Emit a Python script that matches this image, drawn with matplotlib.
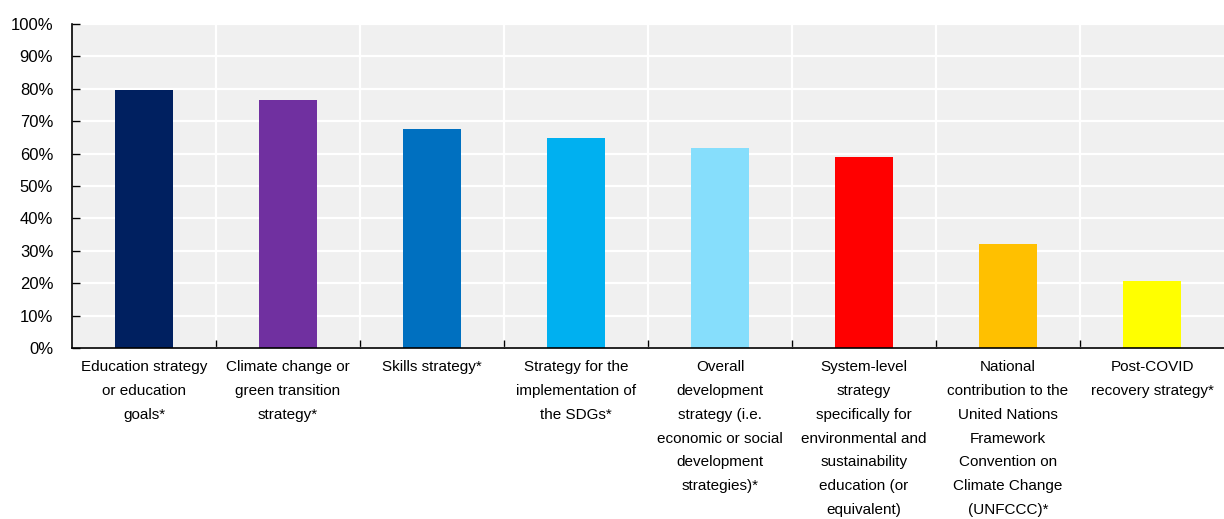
import matplotlib
matplotlib.use("Agg")
import matplotlib.pyplot as plt
from matplotlib.ticker import FixedLocator, PercentFormatter

categories = [
    "Education strategy\nor education\ngoals*",
    "Climate change or\ngreen transition\nstrategy*",
    "Skills strategy*",
    "Strategy for the\nimplementation of\nthe SDGs*",
    "Overall\ndevelopment\nstrategy (i.e.\neconomic or social\ndevelopment\nstrategies)*",
    "System-level\nstrategy\nspecifically for\nenvironmental and\nsustainability\neducation (or\nequivalent)",
    "National\ncontribution to the\nUnited Nations\nFramework\nConvention on\nClimate Change\n(UNFCCC)*",
    "Post-COVID\nrecovery strategy*",
]
values = [79.5, 76.5, 67.6, 64.8, 61.7, 58.8, 32.2, 20.6]
colors = ["#002060", "#7030A0", "#0070C0", "#00B0F0", "#86DEFC", "#FF0000", "#FFC000", "#FFFF00"]
yticks = list(range(0, 101, 10))

plt.rcParams["font.family"] = ["Liberation Sans", "DejaVu Sans"]

W, H = 1224, 519
fig = plt.figure(figsize=(W / 100, H / 100), dpi=100)
ax = fig.add_axes([72 / W, 1 - 348 / H, 1 - 72 / W, (348 - 24) / H])
ax.set_facecolor("#F0F0F0")

x = list(range(len(values)))
ax.bar(x, values, width=0.4, color=colors, zorder=3)

ax.set_xlim(-0.5, len(values) - 0.5)
ax.set_ylim(0, 100)
ax.set_yticks(yticks)
ax.yaxis.set_major_formatter(PercentFormatter(decimals=0))

bounds = [i + 0.5 for i in range(len(values) - 1)]
ax.xaxis.set_major_locator(FixedLocator(bounds))
ax.set_xticklabels([""] * len(bounds))
ax.set_xticks(x, minor=True)
ax.set_xticklabels(categories, minor=True)

ax.grid(True, which="major", color="white", linewidth=1.6, zorder=0)
ax.set_axisbelow(True)

for s in ["top", "right"]:
    ax.spines[s].set_visible(False)
for s in ["left", "bottom"]:
    ax.spines[s].set_color("black")
    ax.spines[s].set_linewidth(1.2)
    ax.spines[s].set_zorder(4)

ax.tick_params(axis="both", which="major", direction="in", length=6, width=1, color="black")
ax.tick_params(axis="y", pad=13.5, labelsize=12)
ax.tick_params(axis="x", which="minor", length=0, pad=8.5, labelsize=11)

for lab in ax.get_xticklabels(minor=True):
    lab.set_linespacing(1.9)
    lab.set_verticalalignment("top")
    lab.set_horizontalalignment("center")

fig.savefig("out.png", dpi=100)
